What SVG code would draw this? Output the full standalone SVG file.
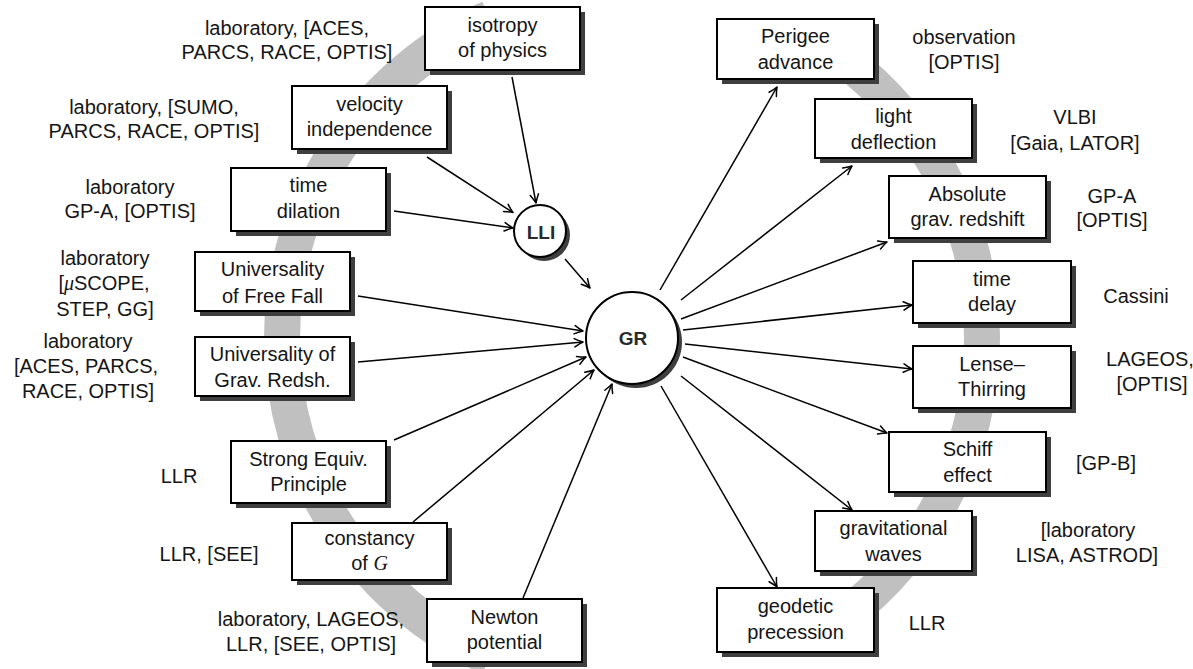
<svg xmlns="http://www.w3.org/2000/svg" width="1193" height="669" viewBox="0 0 1193 669">
<style>
text{font-family:"Liberation Sans",Arial,sans-serif;font-size:20px;fill:#151515;text-anchor:middle}
.box{fill:#fff;stroke:#000;stroke-width:2}
.sh{fill:#3f3f3f}
.band{fill:none;stroke:#c0c0c0;stroke-width:36}
.con{fill:none;stroke:#000;stroke-width:1.5;marker-end:url(#ah)}
.big{font-weight:bold;font-size:19px;fill:#2a2a2a}
.m{font-family:"Liberation Serif","Times New Roman",serif;font-style:italic}
</style>
<defs>
<marker id="ah" markerWidth="14" markerHeight="14" refX="11" refY="7" orient="auto" markerUnits="userSpaceOnUse">
<path d="M2.5,2.8 Q8,6 11,7 Q8,8 2.5,11.2" fill="none" stroke="#000" stroke-width="1.5" stroke-linecap="round" stroke-linejoin="round"/>
</marker>
</defs>
<rect width="1193" height="669" fill="#fff"/>
<g id="bands">
<path class="band" d="M489.6,18.3 A350,350 0 0 0 489.6,657.7"/>
<path class="band" d="M824.7,45.8 A350,350 0 0 1 824.7,630.2"/>
</g>
<g id="connectors">
<line class="con" x1="512" y1="77" x2="536" y2="203"/>
<line class="con" x1="427" y1="157" x2="513" y2="212.5"/>
<line class="con" x1="394" y1="211" x2="513" y2="228"/>
<line class="con" x1="565" y1="259" x2="590" y2="288"/>
<line class="con" x1="358" y1="296" x2="583" y2="331"/>
<line class="con" x1="358" y1="362" x2="583" y2="342"/>
<line class="con" x1="394" y1="440" x2="586" y2="357"/>
<line class="con" x1="413" y1="522" x2="594" y2="370"/>
<line class="con" x1="523" y1="598" x2="612" y2="384"/>
<line class="con" x1="660" y1="290" x2="777" y2="87"/>
<line class="con" x1="681" y1="300" x2="852" y2="166"/>
<line class="con" x1="681" y1="319" x2="887" y2="242"/>
<line class="con" x1="683" y1="330" x2="912" y2="305"/>
<line class="con" x1="685" y1="344" x2="912" y2="369"/>
<line class="con" x1="683" y1="357" x2="887" y2="433"/>
<line class="con" x1="681" y1="376" x2="852" y2="510"/>
<line class="con" x1="661" y1="386" x2="777" y2="587"/>
</g>
<g id="LLI">
<circle class="sh" cx="544" cy="235" r="26"/>
<circle cx="540" cy="231" r="26" fill="#fff" stroke="#000" stroke-width="2"/>
<text class="big" x="541" y="239">LLI</text>
</g>
<g id="GR">
<circle class="sh" cx="636" cy="342" r="46"/>
<circle cx="632" cy="338" r="46" fill="#fff" stroke="#000" stroke-width="2"/>
<text class="big" x="633" y="345">GR</text>
</g>
<g id="isotropy">
<rect class="sh" x="430" y="12" width="155" height="63"/>
<rect class="box" x="425" y="7" width="155" height="63"/>
<text x="502.5" y="31.5">isotropy</text><text x="502.5" y="57">of physics</text>
</g>
<g id="velocity">
<rect class="sh" x="297" y="91" width="155" height="63"/>
<rect class="box" x="292" y="86" width="155" height="63"/>
<text x="369.5" y="110.5">velocity</text><text x="369.5" y="136">independence</text>
</g>
<g id="timedilation">
<rect class="sh" x="236" y="173" width="155" height="63"/>
<rect class="box" x="231" y="168" width="155" height="63"/>
<text x="308.5" y="192">time</text><text x="308.5" y="217.5">dilation</text>
</g>
<g id="uff">
<rect class="sh" x="200" y="257" width="155" height="59"/>
<rect class="box" x="195" y="252" width="155" height="59"/>
<text x="272.5" y="276">Universality</text><text x="272.5" y="302.5">of Free Fall</text>
</g>
<g id="ugr">
<rect class="sh" x="200" y="342" width="155" height="59"/>
<rect class="box" x="195" y="337" width="155" height="59"/>
<text x="272.5" y="361">Universality of</text><text x="272.5" y="387">Grav.  Redsh.</text>
</g>
<g id="sep">
<rect class="sh" x="236" y="446" width="155" height="62"/>
<rect class="box" x="231" y="441" width="155" height="62"/>
<text x="308.5" y="465.5">Strong Equiv.</text><text x="308.5" y="491">Principle</text>
</g>
<g id="constancy">
<rect class="sh" x="297" y="528" width="155" height="57"/>
<rect class="box" x="292" y="523" width="155" height="57"/>
<text x="369.5" y="545">constancy</text><text x="369.5" y="569.5">of <tspan class="m">G</tspan></text>
</g>
<g id="newton">
<rect class="sh" x="432" y="604" width="155" height="63"/>
<rect class="box" x="427" y="599" width="155" height="63"/>
<text x="504.5" y="623.5">Newton</text><text x="504.5" y="649">potential</text>
</g>
<g id="perigee">
<rect class="sh" x="722" y="24" width="157" height="60"/>
<rect class="box" x="717" y="19" width="157" height="60"/>
<text x="795.5" y="43">Perigee</text><text x="795.5" y="69">advance</text>
</g>
<g id="light">
<rect class="sh" x="820" y="104" width="157" height="59"/>
<rect class="box" x="815" y="99" width="157" height="59"/>
<text x="893.5" y="123">light</text><text x="893.5" y="148.5">deflection</text>
</g>
<g id="absolute">
<rect class="sh" x="894" y="181" width="157" height="62"/>
<rect class="box" x="889" y="176" width="157" height="62"/>
<text x="967.5" y="200.5">Absolute</text><text x="967.5" y="226">grav.  redshift</text>
</g>
<g id="timedelay">
<rect class="sh" x="918" y="266" width="158" height="62"/>
<rect class="box" x="913" y="261" width="158" height="62"/>
<text x="992" y="285.5">time</text><text x="992" y="311">delay</text>
</g>
<g id="lense">
<rect class="sh" x="918" y="351" width="158" height="62"/>
<rect class="box" x="913" y="346" width="158" height="62"/>
<text x="992" y="370.5">Lense–</text><text x="992" y="396">Thirring</text>
</g>
<g id="schiff">
<rect class="sh" x="894" y="437" width="157" height="60"/>
<rect class="box" x="889" y="432" width="157" height="60"/>
<text x="967.5" y="456">Schiff</text><text x="967.5" y="481.5">effect</text>
</g>
<g id="gw">
<rect class="sh" x="820" y="516" width="157" height="60"/>
<rect class="box" x="815" y="511" width="157" height="60"/>
<text x="893.5" y="535">gravitational</text><text x="893.5" y="561">waves</text>
</g>
<g id="geodetic">
<rect class="sh" x="722" y="593" width="157" height="64"/>
<rect class="box" x="717" y="588" width="157" height="64"/>
<text x="795.5" y="613">geodetic</text><text x="795.5" y="639">precession</text>
</g>
<g id="labels">
<text x="287" y="35">laboratory, [ACES,</text><text x="287" y="59">PARCS, RACE, OPTIS]</text>
<text x="154" y="114">laboratory, [SUMO,</text><text x="154" y="138">PARCS, RACE, OPTIS]</text>
<text x="130" y="194">laboratory</text><text x="130" y="218">GP-A, [OPTIS]</text>
<text x="105" y="265">laboratory</text><text x="104" y="290">[<tspan class="m">μ</tspan>SCOPE,</text><text x="105" y="316">STEP, GG]</text>
<text x="88" y="348">laboratory</text><text x="86" y="373">[ACES, PARCS,</text><text x="88" y="398">RACE, OPTIS]</text>
<text x="179" y="483">LLR</text>
<text x="209" y="561">LLR, [SEE]</text>
<text x="311" y="626">laboratory, LAGEOS,</text><text x="311" y="651">LLR, [SEE, OPTIS]</text>
<text x="964" y="44">observation</text><text x="964" y="69">[OPTIS]</text>
<text x="1075" y="124">VLBI</text><text x="1075" y="150">[Gaia, LATOR]</text>
<text x="1112" y="203">GP-A</text><text x="1112" y="227">[OPTIS]</text>
<text x="1136" y="303">Cassini</text>
<text x="1150" y="366">LAGEOS,</text><text x="1152" y="391">[OPTIS]</text>
<text x="1106" y="470">[GP-B]</text>
<text x="1088" y="537">[laboratory</text><text x="1087" y="562">LISA, ASTROD]</text>
<text x="927" y="630">LLR</text>
</g>
</svg>
